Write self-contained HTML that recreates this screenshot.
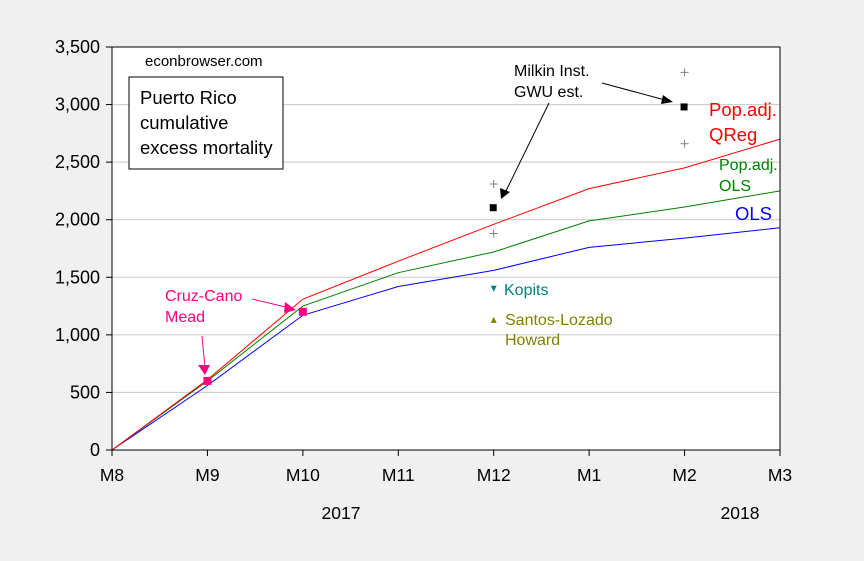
<!DOCTYPE html>
<html><head><meta charset="utf-8"><style>
body{margin:0;background:#f0f0f0;}
svg{display:block;font-family:"Liberation Sans",Arial,sans-serif;}
</style></head><body>
<svg id="c" width="864" height="561">
<rect x="112" y="47" width="668" height="403" fill="#fff"/>
<g id="grid"></g><g id="series"></g><g id="axes"></g><g id="marks"></g>
<text x="145" y="66" font-size="15">econbrowser.com</text>
<g>
<rect x="129" y="77" width="154" height="92" fill="#fff" stroke="#000"/>
<text x="140" y="104" font-size="18.5">Puerto Rico</text>
<text x="140" y="129" font-size="18.5">cumulative</text>
<text x="140" y="154" font-size="18.5">excess mortality</text>
</g>
<text x="709" y="116" font-size="18.5" fill="#ff0000">Pop.adj.</text>
<text x="709" y="141" font-size="18.5" fill="#ff0000">QReg</text>
<text x="719" y="170" font-size="16" fill="#008000">Pop.adj.</text>
<text x="719" y="191" font-size="16" fill="#008000">OLS</text>
<text x="735" y="220" font-size="18.5" fill="#0000ff">OLS</text>
<text x="514" y="76" font-size="16">Milkin Inst.</text>
<text x="514" y="97" font-size="16">GWU est.</text>
<text x="165" y="301" font-size="16" fill="#ff0080">Cruz-Cano</text>
<text x="165" y="322" font-size="16" fill="#ff0080">Mead</text>
<text x="504" y="295" font-size="16" fill="#008080">Kopits</text>
<text x="505" y="325" font-size="16" fill="#808000">Santos-Lozado</text>
<text x="505" y="345" font-size="16" fill="#808000">Howard</text>
<text x="341" y="519" font-size="17.5" text-anchor="middle">2017</text>
<text x="740" y="519" font-size="17.5" text-anchor="middle">2018</text>
<g stroke-width="1" fill="none">
<line x1="202" y1="336" x2="205" y2="368" stroke="#ff0080"/><polygon points="198,365 210,365 205,375" fill="#ff0080"/>
<line x1="252" y1="299" x2="290" y2="308" stroke="#ff0080"/><polygon points="285,302 296,310 284,313" fill="#ff0080"/>
<line x1="549" y1="103" x2="505" y2="193" stroke="#000"/><polygon points="500,188 510,192 501,199" fill="#000"/>
<line x1="602" y1="83" x2="665" y2="100" stroke="#000"/><polygon points="663,95 673,102 661,104" fill="#000"/>
</g>
</svg>
<script>
const cats=["M8","M9","M10","M11","M12","M1","M2","M3"];
const yTicks=[0,500,1000,1500,2000,2500,3000,3500];
const qreg=[0,610,1310,1640,1960,2270,2450,2700];
const olsAdj=[0,600,1250,1540,1720,1990,2110,2250];
const ols=[0,560,1170,1420,1560,1760,1840,1930];
const cruzIdx=[1,2];const cruzVal=[600,1200];
const milkinIdx=[4,6];const milkinVal=[2100,2975];
const milkinHi=[2310,3280];const milkinLo=[1880,2660];
const kopitsIdx=4,kopitsVal=1400;
const santosIdx=4,santosVal=1130;
const NS="http://www.w3.org/2000/svg";
const X=i=>112+i*(668/7), Y=v=>450-v*(403/3500);
function mk(p,t,a){const e=document.createElementNS(NS,t);for(const k in a)e.setAttribute(k,a[k]);document.getElementById(p).appendChild(e);return e;}
yTicks.forEach(v=>{
 if(v>0){const g=mk("grid","line",{x1:112,x2:780,y1:Y(v),y2:Y(v),stroke:"#c8c8c8"});
 
 }
 const t=mk("axes","line",{x1:106,x2:112,y1:Y(v),y2:Y(v),stroke:"#000"});
 
 
 const l=mk("axes","text",{x:100,y:Y(v)+6,"font-size":18,"text-anchor":"end"});l.textContent=v.toLocaleString("en-US");
 
 
});
cats.forEach((c,i)=>{
 const t=mk("axes","line",{x1:X(i),x2:X(i),y1:450,y2:456,stroke:"#000"});
 
 
 const l=mk("axes","text",{x:X(i),y:481,"font-size":17.5,"text-anchor":"middle"});l.textContent=c;
 
 
});
const ax=mk("axes","rect",{x:112,y:47,width:668,height:403,stroke:"#000",fill:"none"});


[[ols,"#0000ff","ols-line"],[olsAdj,"#008000","ols-adj-line"],[qreg,"#ff0000","qreg-line"]].forEach(([d,c,n])=>{
 const p=mk("series","polyline",{points:d.map((v,i)=>X(i)+","+Y(v)).join(" "),stroke:c,fill:"none"});
 
 
});
cruzIdx.forEach((i,k)=>{const r=mk("marks","rect",{x:X(i)-4,y:Y(cruzVal[k])-4,width:8,height:8,fill:"#ff0080"});
 
 });
milkinIdx.forEach((i,k)=>{
 const r=mk("marks","rect",{x:X(i)-4,y:Y(milkinVal[k])-4,width:7,height:7,fill:"#000"});
 
 
 [milkinHi[k],milkinLo[k]].forEach(v=>{
  const p=mk("marks","path",{d:`M${X(i)-4},${Y(v)}h8M${X(i)},${Y(v)-4}v8`,stroke:"#808080"});
  
  
 });
});
const kx=X(kopitsIdx),ky=Y(kopitsVal);
const kp=mk("marks","polygon",{points:`${kx-3},${ky-3} ${kx+3},${ky-3} ${kx},${ky+3}`,fill:"#008080"});


const sx=X(santosIdx),sy=Y(santosVal);
const sp=mk("marks","polygon",{points:`${sx-3},${sy+3} ${sx+3},${sy+3} ${sx},${sy-3}`,fill:"#808000"});


</script>
</body></html>
